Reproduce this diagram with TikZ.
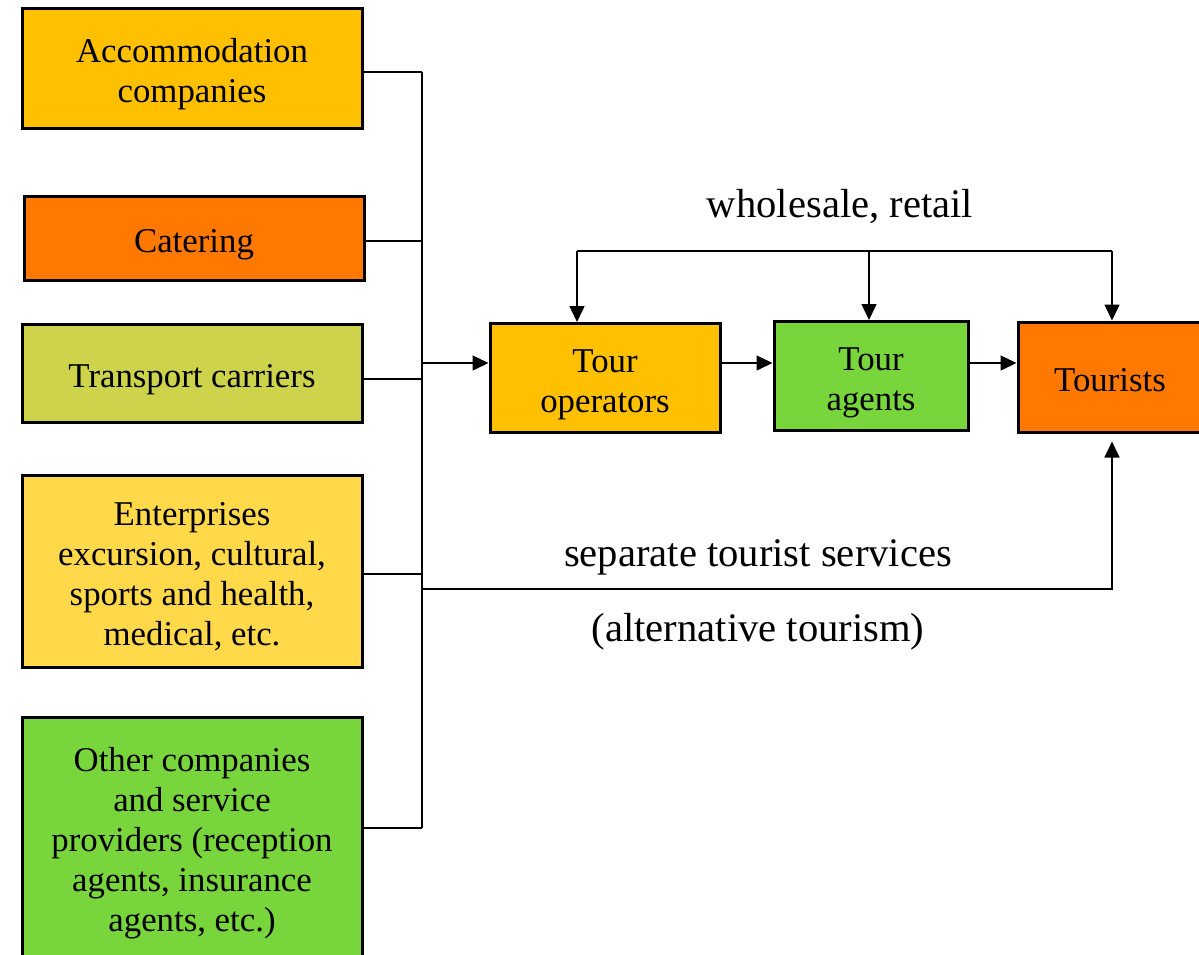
\documentclass[tikz,border=0pt]{standalone}
\usepackage{fontspec}
\setmainfont{Liberation Serif}
\usetikzlibrary{arrows.meta}
\definecolor{cAmber}{HTML}{FFC000}
\definecolor{cOrange}{HTML}{FF7800}
\definecolor{cOlive}{HTML}{CDD44C}
\definecolor{cYellow}{HTML}{FFD94A}
\definecolor{cGreen}{HTML}{78D63C}
\newcommand\bxtext[1]{\raisebox{-3pt}[\height][\depth]{\begin{tabular}{@{}c@{}}#1\end{tabular}}}
\tikzset{
  box/.style={draw=black, line width=1.5pt, align=center, inner sep=2pt,
    font=\fontsize{17.4}{20}\selectfont, text=black},
  conn/.style={line width=0.75pt, draw=black},
  arr/.style={conn, -{Triangle[length=8pt,width=7.5pt]}},
  lbl/.style={font=\fontsize{20.3}{22}\selectfont, text=black},
}
\begin{document}
\begin{tikzpicture}[x=0.5pt,y=-0.5pt]
\useasboundingbox (0,0) rectangle (1199,954);
% left column
\node[box, fill=cAmber, minimum width=170pt, minimum height=60pt] (acc) at (192,68) {\bxtext{Accommodation\\companies}};
\node[box, fill=cOrange, minimum width=170pt, minimum height=42pt] (cat) at (194,238) {\bxtext{Catering}};
\node[box, fill=cOlive, minimum width=170pt, minimum height=49pt] (tra) at (192,373) {\bxtext{Transport carriers}};
\node[box, fill=cYellow, minimum width=170pt, minimum height=96pt] (ent) at (192,571) {\bxtext{Enterprises\\excursion, cultural,\\sports and health,\\medical, etc.}};
\node[box, fill=cGreen, minimum width=170pt, minimum height=120pt] (oth) at (192,837) {\bxtext{Other companies\\and service\\providers (reception\\agents, insurance\\agents, etc.)}};
% right row
\node[box, fill=cAmber, minimum width=115pt, minimum height=54.5pt] (op) at (605,378) {\bxtext{Tour\\operators}};
\node[box, fill=cGreen, minimum width=97pt, minimum height=54.5pt] (ag) at (871,376) {\bxtext{Tour\\agents}};
\node[box, fill=cOrange, minimum width=92pt, minimum height=55pt] (tou) at (1110,377) {\bxtext{Tourists}};
% labels
\node[lbl] (lw) at (840,207) {wholesale, retail};
\node[lbl] (ls) at (758,557) {separate tourist services};
\node[lbl] (la) at (758,632) {(alternative tourism)};
% bus
\coordinate (bus) at (422,0);
\coordinate (j) at (422,363);
\coordinate (sb) at (422,589);
\coordinate (sr) at (1112,589);
\coordinate (tl) at (577,251);
\coordinate (tm) at (869,251);
\coordinate (tr) at (1112,251);
\draw[conn] (acc.east |- 0,72) -- (bus |- 0,72);
\draw[conn] (cat.east |- 0,241) -- (bus |- 0,241);
\draw[conn] (tra.east |- 0,379) -- (bus |- 0,379);
\draw[conn] (ent.east |- 0,574) -- (bus |- 0,574);
\draw[conn] (oth.east |- 0,828) -- (bus |- 0,828);
\draw[conn] (bus |- 0,72) -- (bus |- 0,828);
\draw[arr] (j) -- (j -| op.west);
\draw[arr] (op.east |- j) -- (ag.west |- j);
\draw[arr] (ag.east |- j) -- (tou.west |- j);
% top distribution
\draw[conn] (tl) -- (tr);
\draw[arr] (tl) -- (tl |- op.north);
\draw[arr] (tm) -- (tm |- ag.north);
\draw[arr] (tr) -- (tr |- tou.north);
% separate services
\draw[arr, shorten >=4pt] (sb) -- (sr) -- (sr |- tou.south);
\end{tikzpicture}
\end{document}
